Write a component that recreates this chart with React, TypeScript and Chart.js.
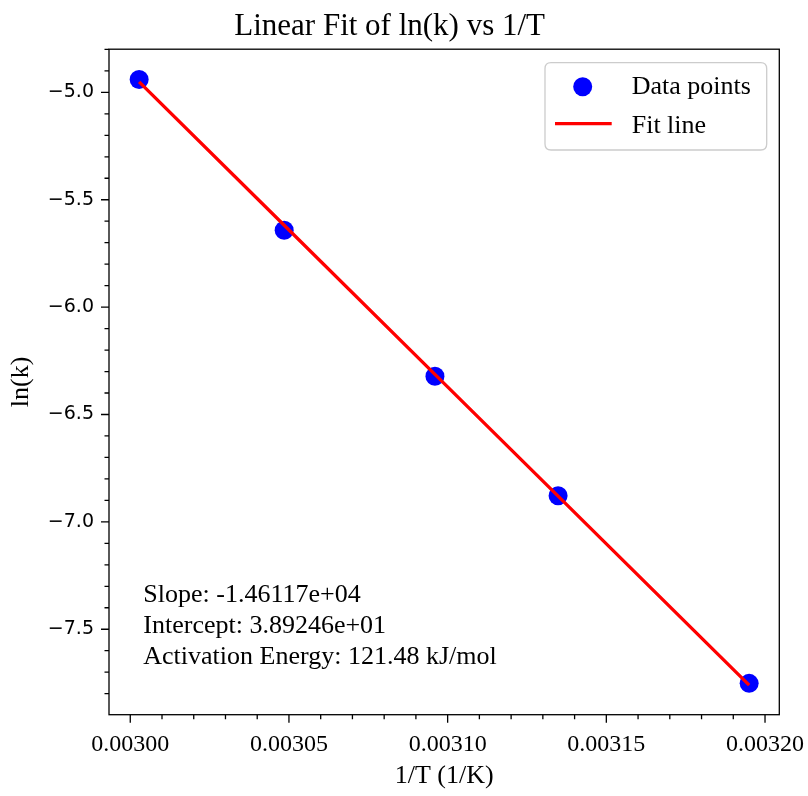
import React, { useEffect, useRef } from "react";
import { Chart, registerables } from "chart.js";

Chart.register(...registerables);

const invT = [0.0030028, 0.0030485, 0.003096, 0.0031348, 0.003195];
const lnK = [-4.94, -5.642, -6.322, -6.878, -7.752];
const fitLnK = [-4.951, -5.619, -6.313, -6.88, -7.76];

const xTicks = [0.003, 0.00305, 0.0031, 0.00315, 0.0032];
const xTickLabels = ["0.00300", "0.00305", "0.00310", "0.00315", "0.00320"];
const yTicks = [-5.0, -5.5, -6.0, -6.5, -7.0, -7.5];
const yTickLabels = ["\u22125.0", "\u22125.5", "\u22126.0", "\u22126.5", "\u22127.0", "\u22127.5"];

const annotationLines = [
  "Slope: -1.46117e+04",
  "Intercept: 3.89246e+01",
  "Activation Energy: 121.48 kJ/mol",
];

const SERIF = "'Liberation Serif', 'DejaVu Serif', serif";
const SANS = "'DejaVu Sans', sans-serif";

const X_MIN = 0.0029933;
const X_MAX = 0.0032045;
const Y_MIN = -7.898;
const Y_MAX = -4.799;

const decorPlugin = {
  id: "decor",
  afterDraw(chart: any) {
    const { ctx, chartArea } = chart;
    const xs = chart.scales.x;
    const ys = chart.scales.y;
    ctx.save();
    ctx.strokeStyle = "#000";
    ctx.lineWidth = 1.3;
    const majorLen = 8;
    const minorLen = 4.5;
    ctx.beginPath();
    for (let i = 0; i <= 25; i++) {
      const v = 0.00299 + i * 0.00001;
      if (v < X_MIN || v > X_MAX) continue;
      const isMajor = Math.abs(v / 0.00005 - Math.round(v / 0.00005)) < 1e-6;
      const px = xs.getPixelForValue(v);
      ctx.moveTo(px, chartArea.bottom);
      ctx.lineTo(px, chartArea.bottom + (isMajor ? majorLen : minorLen));
    }
    for (let i = 0; i <= 40; i++) {
      const v = -4.7 - i * 0.1;
      if (v < Y_MIN || v > Y_MAX) continue;
      const isMajor = Math.abs(v / 0.5 - Math.round(v / 0.5)) < 1e-6;
      const py = ys.getPixelForValue(v);
      ctx.moveTo(chartArea.left, py);
      ctx.lineTo(chartArea.left - (isMajor ? majorLen : minorLen), py);
    }
    ctx.stroke();
    ctx.strokeRect(chartArea.left, chartArea.top, chartArea.right - chartArea.left, chartArea.bottom - chartArea.top);

    ctx.fillStyle = "#000";
    ctx.font = `26px ${SERIF}`;
    ctx.textAlign = "left";
    ctx.textBaseline = "alphabetic";
    annotationLines.forEach((t, i) => {
      ctx.fillText(t, 143.3, 602 + i * 31.2);
    });

    const bx = 545, by = 62.7, bw = 221.7, bh = 87.3, r = 6;
    ctx.beginPath();
    ctx.moveTo(bx + r, by);
    ctx.lineTo(bx + bw - r, by);
    ctx.quadraticCurveTo(bx + bw, by, bx + bw, by + r);
    ctx.lineTo(bx + bw, by + bh - r);
    ctx.quadraticCurveTo(bx + bw, by + bh, bx + bw - r, by + bh);
    ctx.lineTo(bx + r, by + bh);
    ctx.quadraticCurveTo(bx, by + bh, bx, by + bh - r);
    ctx.lineTo(bx, by + r);
    ctx.quadraticCurveTo(bx, by, bx + r, by);
    ctx.closePath();
    ctx.fillStyle = "rgba(255,255,255,0.8)";
    ctx.fill();
    ctx.strokeStyle = "#cccccc";
    ctx.lineWidth = 1.3;
    ctx.stroke();

    const ds = chart.data.datasets;
    ctx.fillStyle = "#0000ff";
    ctx.beginPath();
    ctx.arc(582.7, 86.7, 9.5, 0, Math.PI * 2);
    ctx.fill();
    ctx.strokeStyle = "#ff0000";
    ctx.lineWidth = 3.3;
    ctx.beginPath();
    ctx.moveTo(555, 123.7);
    ctx.lineTo(611.7, 123.7);
    ctx.stroke();

    ctx.fillStyle = "#000";
    ctx.font = `26px ${SERIF}`;
    ctx.fillText(ds[1].label, 631.7, 94.3);
    ctx.fillText(ds[0].label, 631.7, 133.3);
    ctx.restore();
  },
};

export default function App() {
  const ref = useRef<HTMLCanvasElement | null>(null);

  useEffect(() => {
    if (!ref.current) return;
    const chart = new Chart(ref.current, {
      type: "scatter",
      data: {
        datasets: [
          {
            type: "line",
            label: "Fit line",
            data: invT.map((x, i) => ({ x, y: fitLnK[i] })),
            borderColor: "#ff0000",
            backgroundColor: "#ff0000",
            borderWidth: 3.3,
            pointRadius: 0,
            fill: false,
            tension: 0,
            order: 0,
          } as any,
          {
            type: "scatter",
            label: "Data points",
            data: invT.map((x, i) => ({ x, y: lnK[i] })),
            backgroundColor: "#0000ff",
            borderColor: "#0000ff",
            borderWidth: 0,
            pointRadius: 9.5,
            order: 1,
          },
        ],
      },
      options: {
        animation: false,
        responsive: false,
        maintainAspectRatio: false,
        layout: { padding: { left: 0, right: 808 - 779.3, top: 0, bottom: 0 } },
        plugins: {
          legend: { display: false },
          tooltip: { enabled: false },
          title: {
            display: true,
            text: "Linear Fit of ln(k) vs 1/T",
            color: "#000",
            font: { family: SERIF, size: 31, weight: "normal", lineHeight: 1.2 },
            padding: { top: 8, bottom: 4 },
          },
        },
        scales: {
          x: {
            type: "linear",
            min: X_MIN,
            max: X_MAX,
            afterBuildTicks: (axis: any) => {
              axis.ticks = xTicks.map((v) => ({ value: v }));
            },
            afterFit: (axis: any) => {
              axis.height = 796 - 714.7;
              axis.paddingLeft = 0;
              axis.paddingRight = 0;
            },
            grid: { display: false, drawTicks: false, tickLength: 0 },
            border: { display: false },
            ticks: {
              color: "#000",
              font: { family: SERIF, size: 24 },
              padding: 16,
              autoSkip: false,
              maxRotation: 0,
              minRotation: 0,
              callback: (_v: any, i: number) => xTickLabels[i],
            },
            title: {
              display: true,
              text: "1/T (1/K)",
              color: "#000",
              font: { family: SERIF, size: 26, lineHeight: 1.2 },
              padding: { top: 0, bottom: 4 },
            },
          },
          y: {
            type: "linear",
            min: Y_MIN,
            max: Y_MAX,
            afterBuildTicks: (axis: any) => {
              axis.ticks = yTicks.map((v) => ({ value: v }));
            },
            afterFit: (axis: any) => {
              axis.width = 109;
              axis.paddingTop = 0;
              axis.paddingBottom = 0;
            },
            grid: { display: false, drawTicks: false, tickLength: 0 },
            border: { display: false },
            ticks: {
              color: "#000",
              font: { family: SANS, size: 19 },
              padding: 15,
              autoSkip: false,
              callback: (_v: any, i: number) => yTickLabels[i],
            },
            title: {
              display: true,
              text: "ln(k)",
              color: "#000",
              font: { family: SERIF, size: 26, lineHeight: 1.2 },
              padding: { top: 6, bottom: 0 },
            },
          },
        },
      },
      plugins: [decorPlugin],
    });
    return () => chart.destroy();
  }, []);

  return (
    <canvas
      ref={ref}
      width={808}
      height={796}
      style={{ position: "absolute", left: 0, top: 0, width: 808, height: 796, background: "#fff" }}
    />
  );
}
